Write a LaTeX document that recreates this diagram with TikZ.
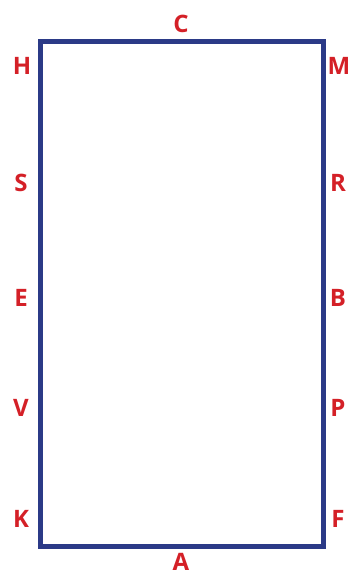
\documentclass[tikz,border=0pt]{standalone}
\usepackage{fontspec}
\setmainfont{Open Sans}
\usepackage{xcolor}
\usepackage{tikz}
\usetikzlibrary{positioning,calc}
\definecolor{arenablue}{HTML}{2B3A87}
\definecolor{markred}{HTML}{D42027}
\tikzset{
  arena/.style={draw=arenablue,line width=5pt,line join=miter},
  marker/.style={text=markred,font=\fontsize{24}{24}\selectfont\bfseries,inner sep=0pt,anchor=center}
}

\begin{document}
\begin{tikzpicture}[x=1pt,y=1pt]
  \useasboundingbox (0,0) rectangle (350,575);
  \coordinate (sw) at (40,28);
  \coordinate (ne) at (323,533.5);
  \draw[arena] (sw) rectangle (ne);
  % letters round the arena
  \node[marker] (C) at (181,551) {C};
  \node[marker] (A) at (181,13) {A};
  \node[marker] (H) at (22,509) {H};
  \node[marker] (S) at (21,392) {S};
  \node[marker] (E) at (21,277) {E};
  \node[marker] (V) at (21,167) {V};
  \node[marker] (K) at (21,56) {K};
  \node[marker] (M) at (339,509) {M};
  \node[marker] (R) at (338,392) {R};
  \node[marker] (B) at (338,277) {B};
  \node[marker] (P) at (338,167) {P};
  \node[marker] (F) at (338,56) {F};
\end{tikzpicture}
\end{document}
